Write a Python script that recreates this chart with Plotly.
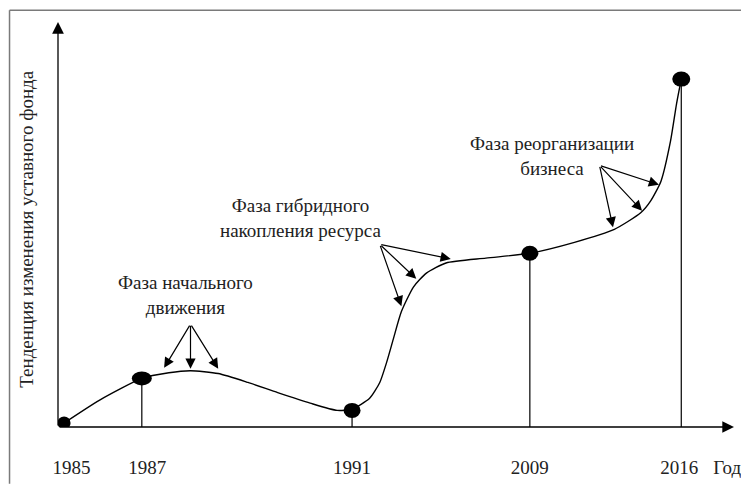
import plotly.graph_objects as go

# ---- data (conceptual units: x 0..100 along the time axis, y 0..100 trend) ----
years = ["1985", "1987", "1991", "2009", "2016"]
year_x = [0.9, 12.4, 43.5, 69.8, 92.2]          # position of each key year on the axis
year_y = [1.0, 12.0, 4.1, 42.9, 85.9]           # trend value at each key year
label_x = [2.0, 13.2, 43.5, 69.8, 91.9, 99.0]   # tick label positions
label_text = ["1985", "1987", "1991", "2009", "2016", "Год"]

curve_x = [0.9, 6.1, 12.4, 16.4, 19.6, 23.7, 28.1, 32.5, 37.3, 41.3, 43.5,
           46.1, 47.6, 48.6, 49.6, 50.8, 52.6, 54.5, 57.4, 63.3, 69.8,
           76.4, 82.3, 86.2, 87.7, 89.2, 90.6, 91.5, 92.2]
curve_y = [1.0, 6.6, 12.0, 13.4, 13.9, 13.2, 11.0, 8.5, 5.9, 4.1, 4.4,
           7.1, 11.0, 15.9, 21.7, 28.5, 34.6, 38.0, 40.5, 41.7, 42.9,
           45.6, 48.8, 52.9, 55.9, 60.7, 70.5, 79.8, 85.9]

phase_text = ["Фаза начального<br>движения",
              "Фаза гибридного<br>накопления ресурса",
              "Фаза реорганизации<br>бизнеса"]
phase_text_x = [18.9, 36.0, 73.1]
phase_text_y = [32.7, 51.7, 66.8]
phase_arrow_from_x = [19.6, 47.6, 80.1]
phase_arrow_from_y = [25.4, 45.1, 64.6]
phase_arrow_to_x = [[15.7, 19.6, 23.7], [58.1, 53.0, 50.8], [88.9, 86.4, 82.1]]
phase_arrow_to_y = [[14.6, 14.4, 14.4], [41.5, 36.6, 29.8], [59.8, 53.4, 49.3]]

y_title = "Тенденция изменения уставного фонда"

# ---- style ----
FONT = "Liberation Serif, DejaVu Serif, serif"
FS = 19
dot_w = [13, 20, 17, 17, 18]
dot_h = [13, 14, 15, 15, 15]

fig = go.Figure()

# smooth trend curve
fig.add_trace(go.Scatter(x=curve_x, y=curve_y, mode="lines",
                         line=dict(color="black", width=1.4, shape="spline", smoothing=0.6),
                         hoverinfo="skip", showlegend=False))

# vertical drop lines from key points (except the origin)
vx, vy = [], []
for xv, yv in zip(year_x[1:], year_y[1:]):
    vx += [xv, xv, None]
    vy += [0, yv, None]
fig.add_trace(go.Scatter(x=vx, y=vy, mode="lines",
                         line=dict(color="black", width=1.2),
                         hoverinfo="skip", showlegend=False))

shapes = []
# black elliptic dots
for xv, yv, w, h in zip(year_x, year_y, dot_w, dot_h):
    shapes.append(dict(type="circle", xref="x", yref="y",
                       xsizemode="pixel", ysizemode="pixel",
                       xanchor=xv, yanchor=yv,
                       x0=-w / 2, x1=w / 2, y0=-h / 2, y1=h / 2,
                       fillcolor="black", line=dict(color="black", width=0)))
# frame (top and left edges)
shapes.append(dict(type="line", xref="paper", yref="paper",
                   x0=-0.0717, x1=1.02, y0=1.0293, y1=1.0293,
                   line=dict(color="#7a7a7a", width=1.5)))
shapes.append(dict(type="line", xref="paper", yref="paper",
                   x0=-0.0717, x1=-0.0717, y0=1.0293, y1=-0.14,
                   line=dict(color="#7a7a7a", width=1.5)))

annotations = []
# axes with arrows
annotations.append(dict(x=100, y=0, ax=0, ay=0, xref="x", yref="y", axref="x", ayref="y",
                         text="", showarrow=True, arrowhead=2, arrowsize=1.8,
                         arrowwidth=1.3, arrowcolor="black", standoff=0))
annotations.append(dict(x=0, y=100, ax=0, ay=0, xref="x", yref="y", axref="x", ayref="y",
                         text="", showarrow=True, arrowhead=2, arrowsize=1.8,
                         arrowwidth=1.3, arrowcolor="black", standoff=0))
# phase labels
for t, tx, ty in zip(phase_text, phase_text_x, phase_text_y):
    annotations.append(dict(x=tx, y=ty, xref="x", yref="y", text=t, showarrow=False,
                             font=dict(family=FONT, size=FS, color="#222"),
                             align="center", xanchor="center", yanchor="middle"))
# phase arrows
for fx, fy, txs, tys in zip(phase_arrow_from_x, phase_arrow_from_y,
                            phase_arrow_to_x, phase_arrow_to_y):
    for tx, ty in zip(txs, tys):
        annotations.append(dict(x=tx, y=ty, ax=fx, ay=fy, xref="x", yref="y",
                                 axref="x", ayref="y", text="", showarrow=True,
                                 arrowhead=2, arrowsize=1.7, arrowwidth=1.2,
                                 arrowcolor="black", standoff=0))
# y title
annotations.append(dict(x=-0.0469, y=0.49, xref="paper", yref="paper", text=y_title,
                         textangle=-90, showarrow=False,
                         font=dict(family=FONT, size=FS, color="#222"),
                         xanchor="center", yanchor="middle"))

# the page body adds an 8px offset, so the figure is 8px smaller and margins shifted
fig.update_layout(
    width=741, height=478,
    margin=dict(l=50, r=8, t=14, b=54),
    paper_bgcolor="white", plot_bgcolor="white",
    shapes=shapes, annotations=annotations,
    xaxis=dict(range=[0, 100], showgrid=False, zeroline=False, showline=False,
               tickvals=label_x, ticktext=label_text,
               ticks="outside", ticklen=23, tickcolor="rgba(0,0,0,0)",
               tickfont=dict(family=FONT, size=FS, color="#222"), fixedrange=True),
    yaxis=dict(range=[0, 100], showgrid=False, zeroline=False, showline=False,
               showticklabels=False, fixedrange=True),
    showlegend=False,
)

fig.write_html("out.html")
